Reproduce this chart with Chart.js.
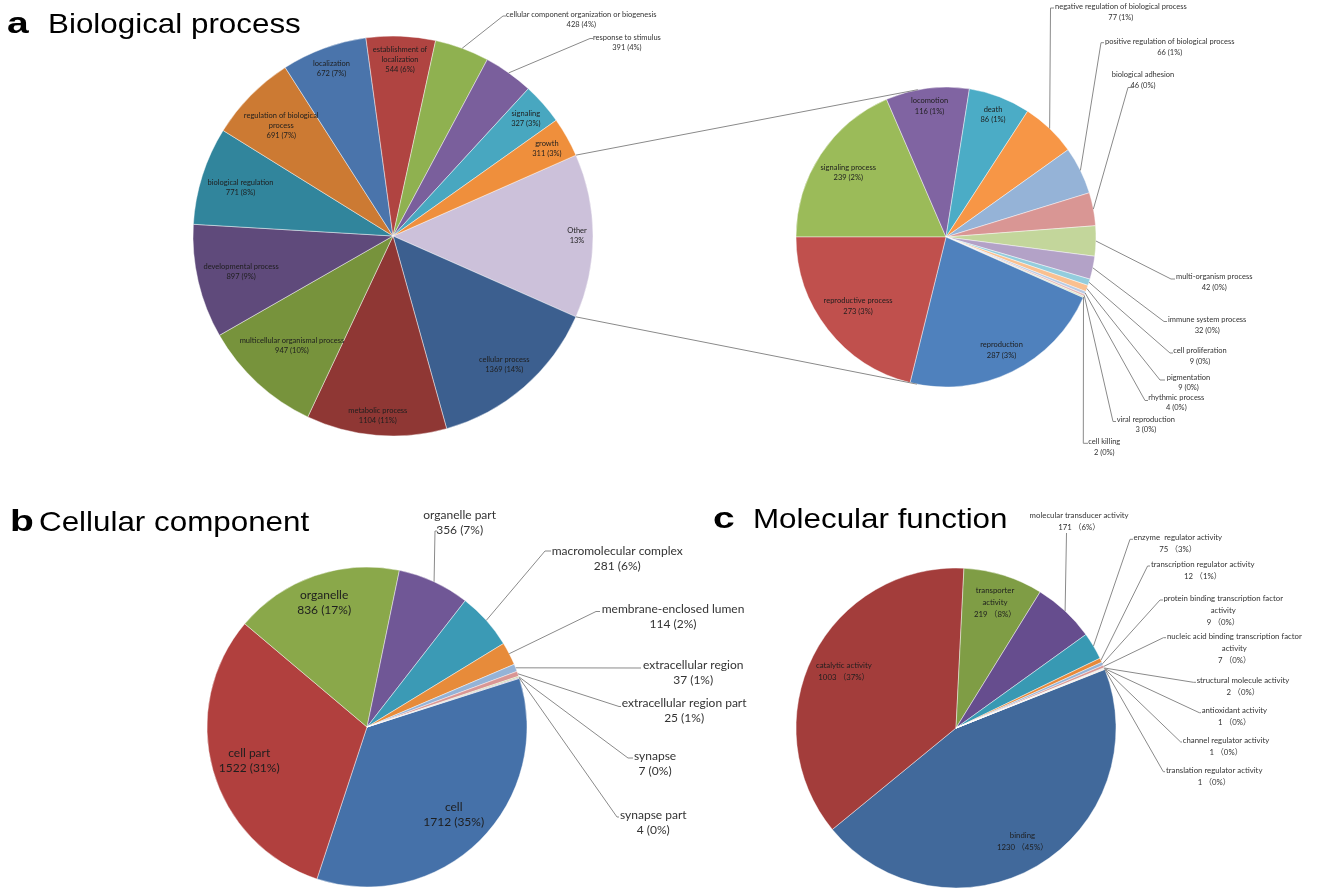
<!DOCTYPE html>
<html><head><meta charset="utf-8">
<script src="https://cdn.jsdelivr.net/npm/chart.js@4.4.1/dist/chart.umd.min.js"></script>
<style>
html,body{margin:0;padding:0;background:#fff;}
#wrap{position:relative;width:1329px;height:890px;overflow:hidden;background:#fff;}
canvas{position:absolute;left:0;top:0;}
.tl{position:absolute;font-family:'Liberation Sans',Arial,sans-serif;font-weight:bold;font-size:30px;line-height:1;color:#000;white-space:nowrap;transform:scaleX(1.3);transform-origin:0 0;}
.tt{position:absolute;font-family:'Liberation Sans',Arial,sans-serif;font-size:28px;line-height:1;color:#000;white-space:nowrap;transform:scaleX(1.12);transform-origin:0 0;}
</style></head><body>
<div id="wrap">
<canvas id="cA" width="1329" height="890"></canvas>
<canvas id="cA2" width="1329" height="890"></canvas>
<canvas id="cB" width="1329" height="890"></canvas>
<canvas id="cC" width="1329" height="890"></canvas>
<div class="tl" style="left:7px;top:7.9px">a</div>
<div class="tt" style="left:48.3px;top:9.6px">Biological process</div>
<div class="tl" style="left:9.5px;top:506.3px">b</div>
<div class="tt" style="left:39.4px;top:508px">Cellular component</div>
<div class="tl" style="left:713px;top:502.9px">c</div>
<div class="tt" style="left:753.3px;top:504.6px">Molecular function</div>
</div>
<script>
// ---------- DATA ----------
// (a) Biological process – secondary pie ("Other"), clockwise from 9 o'clock
const namesA2 = ['signaling process','locomotion','death','negative regulation of biological process','positive regulation of biological process','biological adhesion','multi-organism process','immune system process','cell proliferation','pigmentation','rhythmic process','viral reproduction','cell killing','reproduction','reproductive process'];
const valuesA2 = [239,116,86,77,66,46,42,32,9,9,4,3,2,287,273];
const pctA2 = [2,1,1,1,1,0,0,0,0,0,0,0,0,3,3];

// (a) Biological process – main pie, clockwise from "Other"
const namesA = ['Other','cellular process','metabolic process','multicellular organismal process','developmental process','biological regulation','regulation of biological\nprocess','localization','establishment of\nlocalization','cellular component organization or biogenesis','response to stimulus','signaling','growth'];
const valuesA = [valuesA2.reduce((a,b)=>a+b,0),1369,1104,947,897,771,691,672,544,428,391,327,311];
const pctA = [13,14,11,10,9,8,7,7,6,4,4,3,3];

// (b) Cellular component
const namesB = ['cell','cell part','organelle','organelle part','macromolecular complex','membrane-enclosed lumen','extracellular region','extracellular region part','synapse','synapse part'];
const valuesB = [1712,1522,836,356,281,114,37,25,7,4];
const pctB = [35,31,17,7,6,2,1,1,0,0];

// (c) Molecular function
const namesC = ['binding','catalytic activity','transporter\nactivity','molecular transducer activity','enzyme  regulator activity','transcription regulator activity','protein binding transcription factor\nactivity','nucleic acid binding transcription factor\nactivity','structural molecule activity','antioxidant activity','channel regulator activity','translation regulator activity'];
const valuesC = [1230,1003,219,171,75,12,9,7,2,1,1,1];
const pctC = [45,37,8,6,3,1,0,0,0,0,0,0];

// ---------- STYLE / LAYOUT ----------
const W = 1329, H = 890;
const colorsA = ['#ccc1da','#3c5f8f','#8f3734','#77933c','#5f4a7b','#31859c','#cc7a33','#4a74ab','#b04441','#8fb150','#7a5f9c','#48a7c0','#ef8f3c'];
const colorsA2 = ['#9bbb59','#8064a2','#4bacc6','#f79646','#95b3d7','#d99694','#c3d69b','#b3a2c7','#93cddd','#fac090','#b7c9e3','#e6b9b8','#d7e4bd','#4f81bd','#c0504d'];
const colorsB = ['#4571a9','#b1403e','#8aa84a','#705796','#3b9ab5','#e78b3a','#95b3d7','#d99694','#c3d69b','#b3a2c7'];
const colorsC = ['#41699b','#a33d3b','#7f9d45','#664d8e','#3899b3','#e8893a','#95b3d7','#d99694','#c3d69b','#b3a2c7','#93cddd','#fac090'];

const layA = {cx:393, cy:236, r:200};
const layA2 = {cx:946, cy:237, r:150};
const layB = {cx:367, cy:727, r:160};
const layC = {cx:956, cy:728, r:160};

const FONT = (s)=> s + 'px Lato, "Noto Sans CJK SC", sans-serif';
const LINE = '#8a8a8a';

const textsA = namesA.map((n,i)=> i===0 ? n + '\n' + pctA[i] + '%' : n + '\n' + valuesA[i] + ' (' + pctA[i] + '%)');
const textsA2 = namesA2.map((n,i)=> n + '\n' + valuesA2[i] + ' (' + pctA2[i] + '%)');
const textsB = namesB.map((n,i)=> n + '\n' + valuesB[i] + ' (' + pctB[i] + '%)');
const textsC = namesC.map((n,i)=> n + '\n' + valuesC[i] + ' \uFF08' + pctC[i] + '%\uFF09');

const specA = {texts:textsA, inside:[0,1,2,3,4,5,6,7,8,11,12], font:FONT(7.5), lh:10,
  outside:{9:{ex:503,ey:16,kx:506,tx:506,ty:15}, 10:{ex:590,ey:38.5,kx:593,tx:593,ty:37.7}}};
const specA2 = {texts:textsA2, inside:[0,1,2,13,14], font:FONT(7.5), lh:10.5,
  outside:{3:{ex:1050.5,ey:8,kx:1054,tx:1055,ty:6.7},
           4:{ex:1101,ey:42.7,kx:1104,tx:1105,ty:41.7},
           5:{ex:1128,ey:87.5,kx:1133,tx:1111.7,ty:75},
           6:{ex:1171,ey:279,kx:1175,tx:1176,ty:276.7},
           7:{ex:1164,ey:321.5,kx:1167,tx:1168,ty:320},
           8:{ex:1170,ey:353,kx:1173,tx:1173.3,ty:350.7},
           9:{ex:1160,ey:380,kx:1165,tx:1166.7,ty:377.3},
           10:{ex:1145,ey:400.5,kx:1148,tx:1148.3,ty:397.3},
           11:{ex:1113,ey:421.5,kx:1116,tx:1116.7,ty:419.3},
           12:{ex:1083.3,ey:443.3,kx:1088,tx:1088.3,ty:441.7}}};
const specB = {texts:textsB, inside:[0,1,2], font:FONT(12), lh:15,
  outside:{3:{ex:435,ey:531,kx:437,tx:423.3,ty:515},
           4:{ex:545,ey:551,kx:551,tx:551.7,ty:550.7},
           5:{ex:596,ey:611.5,kx:600,tx:601.7,ty:609},
           6:{ex:641,ey:668,kx:null,tx:643,ty:665},
           7:{ex:619,ey:706.5,kx:621,tx:621.7,ty:702.7},
           8:{ex:628,ey:758,kx:633,tx:634,ty:756},
           9:{ex:617,ey:817,kx:619,tx:620,ty:815}}};
const specC = {texts:textsC, inside:[0,1,2], font:FONT(7.8), lh:12,
  outside:{3:{ex:1066.5,ey:533,kx:null,tx:1029.6,ty:515},
           4:{ex:1130,ey:539.3,kx:1133,tx:1133.6,ty:537.3},
           5:{ex:1147.6,ey:566,kx:1150,tx:1151,ty:564},
           6:{ex:1160,ey:600,kx:1163,tx:1163.4,ty:598.3},
           7:{ex:1163.4,ey:637.7,kx:1166,tx:1166.9,ty:636.7},
           8:{ex:1193.3,ey:682.3,kx:1196,tx:1196.7,ty:680.7},
           9:{ex:1199.3,ey:712.7,kx:1201,tx:1201.7,ty:710.7},
           10:{ex:1180.7,ey:742,kx:1182,tx:1182.7,ty:740},
           11:{ex:1163.3,ey:771.7,kx:1165,tx:1166,ty:770}}};

// ---------- PLUGINS ----------
function bestFit(cx, cy, r, ang, w, h) {
  const c = Math.cos(ang), s = Math.sin(ang);
  for (let f = 0.93; f >= 0.35; f -= 0.005) {
    const x = cx + c*r*f, y = cy + s*r*f;
    let ok = true;
    for (const [dx,dy] of [[-w/2,-h/2],[w/2,-h/2],[-w/2,h/2],[w/2,h/2]]) {
      if (Math.hypot(x+dx-cx, y+dy-cy) > r*0.975) { ok = false; break; }
    }
    if (ok) return [x,y];
  }
  return [cx + c*r*0.35, cy + s*r*0.35];
}

function makeLabelPlugin(spec) {
  return {
    id: 'pieLabels',
    afterDatasetsDraw(chart) {
      const ctx = chart.ctx;
      const arcs = chart.getDatasetMeta(0).data;
      ctx.save();
      ctx.font = spec.font;
      ctx.textAlign = 'center';
      ctx.textBaseline = 'middle';
      const lh = spec.lh;
      spec.inside.forEach(i => {
        const a = arcs[i];
        const lines = spec.texts[i].split('\n');
        const w = Math.max(...lines.map(l => ctx.measureText(l).width));
        const h = lines.length * lh;
        const mid = (a.startAngle + a.endAngle) / 2;
        const [x,y] = bestFit(a.x, a.y, a.outerRadius, mid, w, h);
        ctx.fillStyle = '#1e1e1e';
        lines.forEach((l,k) => ctx.fillText(l, x, y - h/2 + lh/2 + k*lh));
      });
      Object.keys(spec.outside).forEach(key => {
        const i = +key, o = spec.outside[key], a = arcs[i];
        const mid = (a.startAngle + a.endAngle) / 2;
        const rx = a.x + Math.cos(mid)*a.outerRadius, ry = a.y + Math.sin(mid)*a.outerRadius;
        ctx.strokeStyle = LINE; ctx.lineWidth = 1;
        ctx.beginPath(); ctx.moveTo(rx, ry); ctx.lineTo(o.ex, o.ey);
        if (o.kx != null) ctx.lineTo(o.kx, o.ey);
        ctx.stroke();
        const lines = spec.texts[i].split('\n');
        const w = Math.max(...lines.map(l => ctx.measureText(l).width));
        ctx.fillStyle = '#333';
        lines.forEach((l,k) => ctx.fillText(l, o.tx + w/2, o.ty + k*lh));
      });
      ctx.restore();
    }
  };
}

let chartA = null;
const connectorPlugin = {
  id: 'connector',
  afterDatasetsDraw(chart) {
    if (!chartA) return;
    const other = chartA.getDatasetMeta(0).data[0];
    const s = chart.getDatasetMeta(0).data[0];
    const c2x = s.x, c2y = s.y, r2 = s.outerRadius;
    const ctx = chart.ctx;
    ctx.save();
    ctx.strokeStyle = LINE; ctx.lineWidth = 1;
    [[other.startAngle, 1], [other.endAngle, -1]].forEach(([ang, sign]) => {
      const px = other.x + Math.cos(ang)*other.outerRadius;
      const py = other.y + Math.sin(ang)*other.outerRadius;
      const dx = px - c2x, dy = py - c2y, d = Math.hypot(dx, dy);
      const t = Math.atan2(dy, dx) + sign*Math.acos(r2/d);
      ctx.beginPath(); ctx.moveTo(px, py);
      ctx.lineTo(c2x + Math.cos(t)*r2, c2y + Math.sin(t)*r2);
      ctx.stroke();
    });
    ctx.restore();
  }
};

function makePie(id, lay, labels, values, colors, rotation, spec, extra) {
  return new Chart(document.getElementById(id), {
    type: 'pie',
    data: {labels: labels, datasets: [{data: values, backgroundColor: colors, borderColor: 'rgba(255,255,255,0.55)', borderWidth: 0.8}]},
    options: {
      responsive: false, animation: false, devicePixelRatio: 1, events: [],
      rotation: rotation, radius: lay.r,
      layout: {padding: {left: lay.cx - lay.r, right: W - lay.cx - lay.r, top: lay.cy - lay.r, bottom: H - lay.cy - lay.r}},
      plugins: {legend: {display: false}, tooltip: {enabled: false}, title: {display: false}}
    },
    plugins: [makeLabelPlugin(spec)].concat(extra || [])
  });
}

const totalA = valuesA.reduce((a,b)=>a+b,0);
const otherDeg = 360 * valuesA[0] / totalA;
chartA = makePie('cA', layA, namesA, valuesA, colorsA, 90 - otherDeg/2, specA);
makePie('cA2', layA2, namesA2, valuesA2, colorsA2, 270, specA2, [connectorPlugin]);
makePie('cB', layB, namesB, valuesB, colorsB, 72.3, specB);
makePie('cC', layC, namesC, valuesC, colorsC, 68.5, specC);
</script>
</body></html>
